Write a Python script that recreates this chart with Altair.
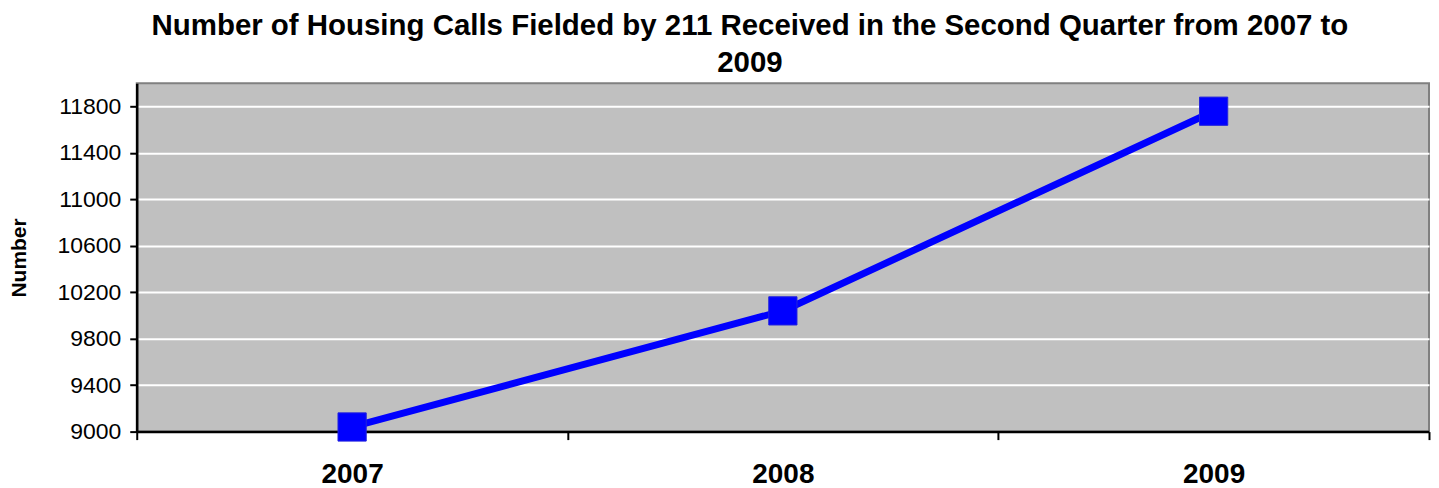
import altair as alt
import pandas as pd

years = ["2007", "2008", "2009"]
calls = [9040, 10040, 11760]
y_ticks = [9000, 9400, 9800, 10200, 10600, 11000, 11400, 11800]

df = pd.DataFrame({"Year": years, "Calls": calls})

FONT = "Liberation Sans"

x_enc = alt.X(
    "Year:N",
    sort=years,
    scale=alt.Scale(paddingInner=0, paddingOuter=0),
    axis=alt.Axis(
        title=None,
        labelAngle=0,
        labelFont=FONT,
        labelFontSize=28,
        labelFontWeight="bold",
        labelColor="black",
        labelPadding=21,
        tickBand="extent",
        ticks=True,
        tickSize=8,
        tickWidth=2,
        tickColor="black",
        domainColor="black",
        domainWidth=2.5,
        grid=False,
    ),
)

y_enc = alt.Y(
    "Calls:Q",
    scale=alt.Scale(domain=[9000, 12000], nice=False, zero=False),
    axis=alt.Axis(
        title="Number",
        titleFont=FONT,
        titleFontSize=21,
        titleFontWeight="bold",
        titleColor="black",
        titleX=-117,
        titleBaseline="middle",
        values=y_ticks,
        format="d",
        labelFont=FONT,
        labelFontSize=23,
        labelColor="black",
        labelPadding=9,
        tickSize=7,
        tickWidth=2,
        tickColor="black",
        domainColor="black",
        domainWidth=2.5,
        grid=True,
        gridColor="white",
        gridWidth=2,
        gridOpacity=1,
    ),
)

line = alt.Chart(df).mark_line(color="#0000FF", strokeWidth=7).encode(x=x_enc, y=y_enc)
pts = alt.Chart(df).mark_square(
    color="#0000FF", size=800, opacity=1, stroke="#2222DD", strokeWidth=1
).encode(x=x_enc, y=y_enc)

chart = (
    alt.layer(line, pts)
    .properties(
        width=1295,
        height=349,
        title=alt.TitleParams(
            text=[
                "Number of Housing Calls Fielded by 211 Received in the Second Quarter from 2007 to",
                "2009",
            ],
            font=FONT,
            fontSize=29.5,
            fontWeight="bold",
            color="black",
            anchor="middle",
            dx=-33,
            offset=5,
            lineHeight=37,
        ),
        autosize=alt.AutoSizeParams(type="none"),
        padding={"left": 129, "top": 75, "right": 2, "bottom": 58},
    )
    .configure_view(fill="#C0C0C0", stroke="#808080", strokeWidth=2)
)

chart.save("out.html", embed_options={"renderer": "svg", "actions": False})
